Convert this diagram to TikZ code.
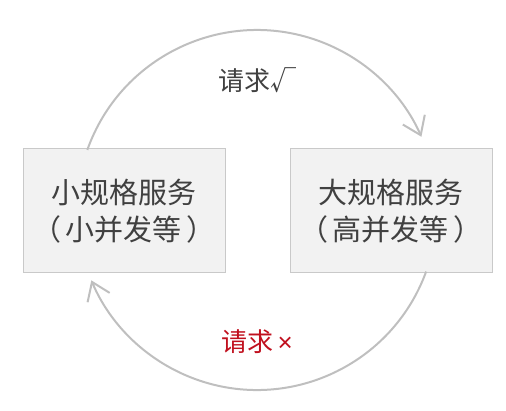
\documentclass[tikz,border=0pt]{standalone}
\usepackage{fontspec}
\setmainfont{Noto Sans CJK SC}
\newfontfamily\latinfont{Liberation Sans}
\definecolor{boxfill}{HTML}{F2F2F2}
\definecolor{boxline}{HTML}{C9C9C9}
\definecolor{arcgray}{HTML}{BFBFBF}
\definecolor{txtgray}{HTML}{404040}
\definecolor{reqred}{HTML}{C0101E}
\usepackage{tikz}
\usetikzlibrary{positioning,arrows.meta}

\begin{document}
\begin{tikzpicture}[x=1pt,y=1pt,node distance=64pt,
                      box/.style={rectangle,draw=boxline,fill=boxfill,line width=1pt,
                                  minimum width=202pt,minimum height=124pt,
                                  align=center,text=txtgray,
                                  font=\fontsize{29}{37}\selectfont},
                      loop/.style={draw=arcgray,line width=2pt,
                                   -{Straight Barb[length=17pt,width=24pt,line width=2pt]}},
                      tag/.style={font=\fontsize{26}{30}\selectfont}]
    \useasboundingbox (0,0) rectangle (506,410);
    \node[box] (small) at (124,199) {小规格服务\\（\,小并发等\,）};
    \node[box,right=64pt of small] (large) {大规格服务\\（\,高并发等\,）};
    \coordinate (hub) at (257,200);
    % top arc: small -> large
    \draw[loop] ([shift={(160.5:180)}]hub) arc[start angle=160.5,end angle=24,radius=180];
    % bottom arc: large -> small
    \draw[loop] ([shift={(-20:180)}]hub) arc[start angle=-20,end angle=-157,radius=180];
    \node[tag,text=txtgray] (ok) at (257,330) {请求√};
    \node[tag,text=reqred] (fail) at (257,68) {请求\,{\latinfont ×}};
  \end{tikzpicture}
\end{document}
